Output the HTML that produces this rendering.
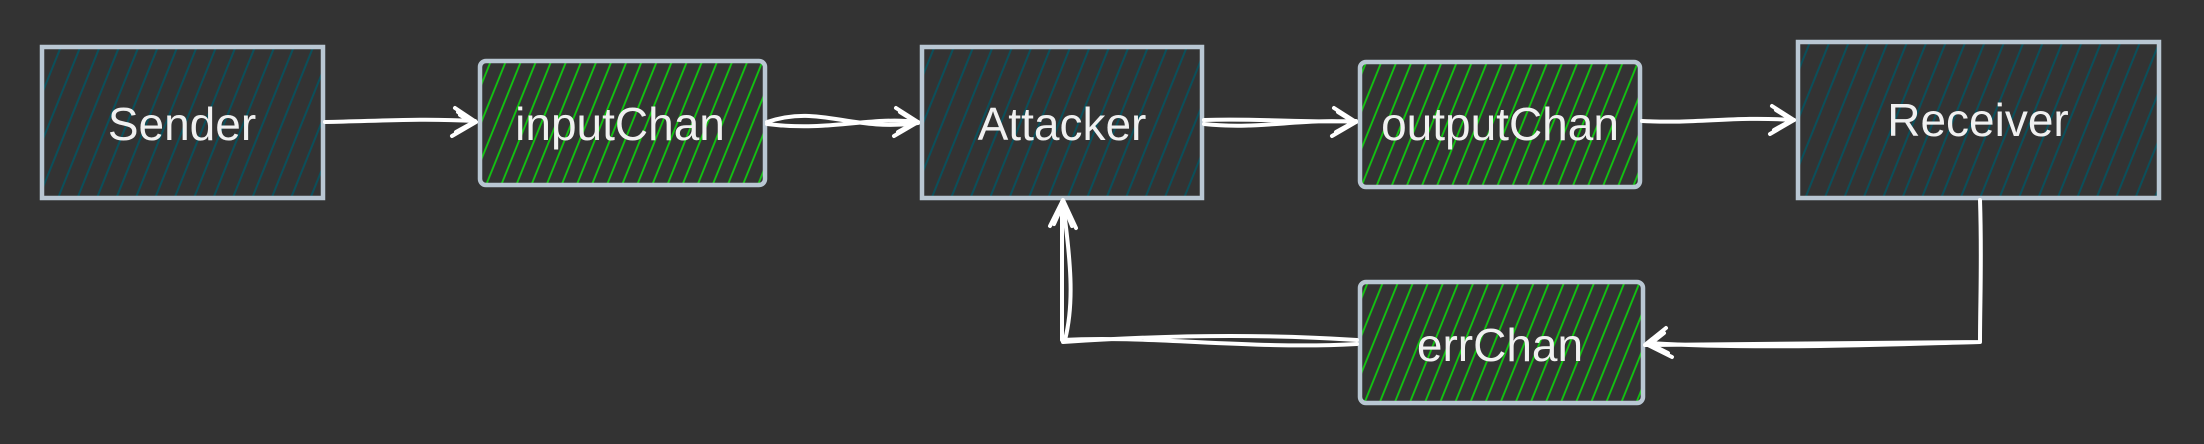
<!DOCTYPE html>
<html><head><meta charset="utf-8"><style>
html,body{margin:0;padding:0;background:#333;}
svg{display:block}
text{font-family:"Liberation Sans",sans-serif;font-size:46px;fill:#f0f0f0;text-anchor:middle;dominant-baseline:central}
</style></head><body>
<svg width="2204" height="444" viewBox="0 0 2204 444" xmlns="http://www.w3.org/2000/svg">
<defs>
<pattern id="teal" patternUnits="userSpaceOnUse" width="18" height="40" patternTransform="rotate(22)">
<line x1="2" y1="0" x2="2" y2="40" stroke="#0b4f5a" stroke-width="2"/>
</pattern>
<pattern id="green" patternUnits="userSpaceOnUse" width="14" height="40" patternTransform="rotate(22)">
<line x1="2" y1="0" x2="2" y2="40" stroke="#10c810" stroke-width="1.8"/>
</pattern>
</defs>
<rect width="2204" height="444" fill="#333"/>
<g stroke="#b9c7d3" stroke-width="4.5">
<rect x="42" y="47" width="281" height="151" fill="url(#teal)"/>
<rect x="480" y="61" width="285" height="124" rx="6" fill="url(#green)"/>
<rect x="922" y="47" width="280" height="151" fill="url(#teal)"/>
<rect x="1360" y="62" width="280" height="125" rx="6" fill="url(#green)"/>
<rect x="1798" y="42" width="361" height="156" fill="url(#teal)"/>
<rect x="1360" y="282" width="283" height="121" rx="6" fill="url(#green)"/>
</g>
<text x="182" y="124">Sender</text>
<text x="620" y="124">inputChan</text>
<text x="1062" y="124">Attacker</text>
<text x="1500" y="124">outputChan</text>
<text x="1978" y="120">Receiver</text>
<text x="1500" y="345">errChan</text>
<g stroke="#fff" stroke-width="4" fill="none" stroke-linecap="round" stroke-linejoin="round">
<path d="M325 122 C380 121,420 118,475 121"/>
<path d="M455 108 L476 122 L452 136 M458 112 L474 122 L456 132 M460 115 L472 122"/>
<path d="M767 122 C820 104,850 132,918 123 M767 124 C830 132,870 116,918 122"/>
<path d="M896 108 L918 122 L894 136 M900 112 L916 122 L898 132"/>
<path d="M1204 120 C1260 118,1300 123,1356 121 M1204 124 C1260 130,1300 118,1356 122"/>
<path d="M1334 108 L1356 122 L1332 136 M1338 112 L1354 122 L1336 132"/>
<path d="M1642 121 C1700 124,1730 116,1794 120"/>
<path d="M1772 106 L1794 120 L1770 134 M1776 110 L1792 120 L1774 130"/>
<path d="M1980 200 C1982 260,1980 300,1980 342 L1645 345 M1980 342 C1900 344,1760 350,1648 343"/>
<path d="M1666 328 L1646 344 L1672 357 M1664 333 L1650 344 L1668 353"/>
<path d="M1357 340 C1250 333,1150 336,1063 342 M1357 344 C1250 350,1150 335,1062 340 L1062 202 M1065 340 C1075 300,1070 260,1063 202"/>
<path d="M1050 226 L1063 200 L1076 228 M1054 224 L1063 204 L1072 226"/>
</g>
</svg>
</body></html>
